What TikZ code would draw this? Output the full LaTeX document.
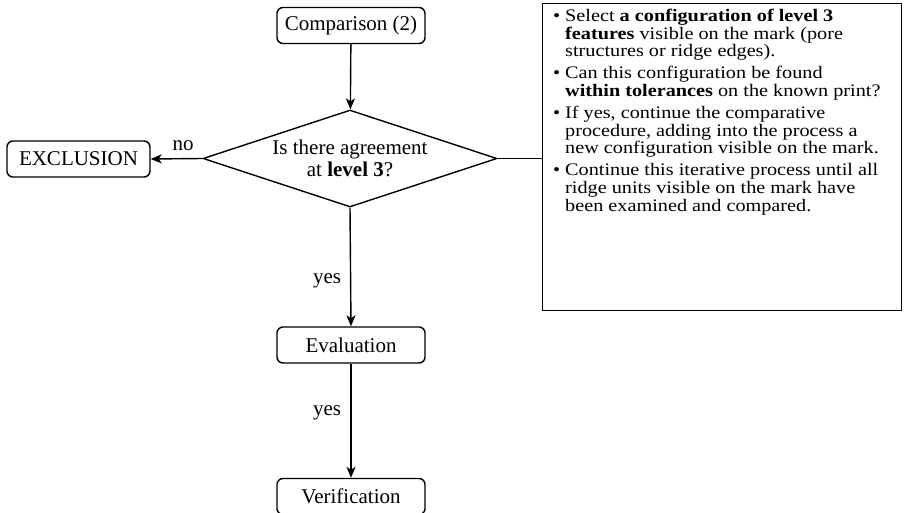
\documentclass[tikz,border=0pt]{standalone}
\usepackage{fontspec}
\setmainfont{Liberation Serif}
\newfontfamily\infofam[FakeStretch=1.15]{Liberation Serif}
\usetikzlibrary{shapes.geometric,arrows.meta}
\newcommand{\bul}{\makebox[12pt][l]{\textbullet}}
\newcommand{\ind}{\hspace*{12pt}}
\newcommand{\infofont}{\infofam\fontsize{17.6}{17.6}\selectfont\lineskiplimit=-20pt\relax}
\begin{document}
\begin{tikzpicture}[x=1pt,y=-1pt,
  every node/.style={font=\fontsize{21}{22}\selectfont},
  stepbox/.style={draw, line width=1.4pt, rounded corners=6pt, minimum width=148pt, minimum height=36pt, inner sep=0pt},
  decision/.style={draw, line width=1.4pt, diamond, aspect=3, minimum width=294pt, minimum height=97pt, inner sep=0pt, align=center},
  conn/.style={line width=1.4pt},
  arr/.style={conn, -{Stealth[length=11pt,width=9pt,inset=3pt]}},
  lbl/.style={inner sep=0pt}]
\useasboundingbox (0,0) rectangle (904,512);
\node[stepbox] (cmp) at (351,25.5) {Comparison (2)};
\node[decision] (dia) at (350,158.5) {Is there agreement\\ at \textbf{level 3}?};
\node[stepbox, minimum width=143pt] (excl) at (78.5,159) {EXCLUSION};
\node[stepbox] (eval) at (351,345) {Evaluation};
\node[stepbox] (ver) at (351,496.5) {Verification};
\node[draw, line width=1.4pt, anchor=north west, minimum width=359pt, minimum height=307pt, inner sep=0pt] (info) at (542,3) {};
\node[anchor=north west, inner sep=0pt, align=left, font=\infofont] (txt) at (553,9) {%
\bul Select \textbf{a configuration of level 3}\\
\ind\textbf{features} visible on the mark (pore\\
\ind structures or ridge edges).\\[4.5pt]
\bul Can this configuration be found\\
\ind\textbf{within tolerances} on the known print?\\[4.5pt]
\bul If yes, continue the comparative\\
\ind procedure, adding into the process a\\
\ind new configuration visible on the mark.\\[4.5pt]
\bul Continue this iterative process until all\\
\ind ridge units visible on the mark have\\
\ind been examined and compared.};
\draw[arr] (cmp) -- (dia);
\draw[arr] (dia.west) -- (excl.east);
\draw[conn] (dia.east) -- (info.west |- dia.east);
\draw[arr] (dia.south) -- (eval.north);
\draw[arr] (eval.south) -- (ver.north);
\node[lbl] (no) at (183,146) {no};
\node[lbl] (yes1) at (327,281) {yes};
\node[lbl] (yes2) at (327,413) {yes};
\end{tikzpicture}
\end{document}
